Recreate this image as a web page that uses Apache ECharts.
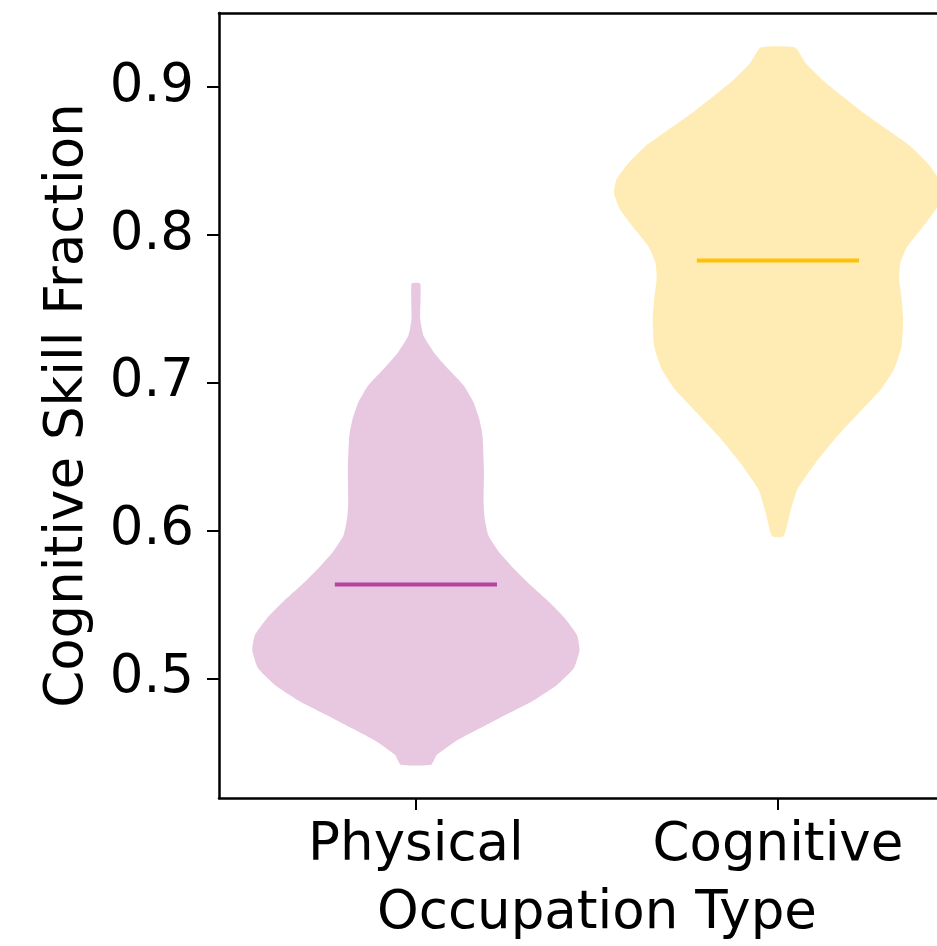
<!DOCTYPE html>
<html>
<head>
<meta charset="utf-8">
<script src="https://cdn.jsdelivr.net/npm/echarts@6/dist/echarts.min.js"></script>
<style>
html,body{margin:0;padding:0;background:#fff;}
#chart{width:937px;height:946px;}
</style>
</head>
<body>
<div id="chart"></div>
<script>
// ---- data ----
const categories = ['Physical', 'Cognitive'];
const positions = [1, 2];
const yTicks = [0.5, 0.6, 0.7, 0.8, 0.9];

// violin profile: y value levels and half-widths (in x-axis units)
const physicalLevels = [0.4415, 0.4482, 0.4573, 0.4663, 0.4752, 0.4843, 0.4955, 0.5067, 0.519, 0.5292, 0.5405, 0.5517, 0.563, 0.5742, 0.5855, 0.5967, 0.608, 0.6193, 0.6417, 0.6642, 0.6754, 0.6867, 0.698, 0.709, 0.7206, 0.7316, 0.743, 0.767];
const physicalHalfWidths = [0.042, 0.058, 0.109, 0.178, 0.247, 0.32, 0.39, 0.436, 0.452, 0.445, 0.412, 0.367, 0.316, 0.27, 0.229, 0.20, 0.19, 0.187, 0.188, 0.184, 0.175, 0.159, 0.132, 0.09, 0.049, 0.021, 0.012, 0.012];

const cognitiveLevels = [0.5961, 0.6123, 0.628, 0.646, 0.664, 0.6798, 0.6955, 0.709, 0.7248, 0.7428, 0.7585, 0.7698, 0.781, 0.7922, 0.8035, 0.817, 0.8283, 0.8373, 0.8485, 0.8597, 0.871, 0.8822, 0.8935, 0.9047, 0.916, 0.9268];
const cognitiveHalfWidths = [0.016, 0.034, 0.054, 0.105, 0.165, 0.225, 0.285, 0.321, 0.342, 0.346, 0.341, 0.335, 0.338, 0.358, 0.395, 0.436, 0.453, 0.446, 0.413, 0.367, 0.303, 0.238, 0.179, 0.123, 0.077, 0.047];

const medians = [0.5634, 0.7826];

// ---- styling ----
const fillColors = ['#e8c8e0', '#ffecb5'];
const lineColors = ['#b5449f', '#ffc107'];
const medianHalfWidth = 0.224;
const FONT = 'DejaVu Sans';

const profiles = [
  {levels: physicalLevels, widths: physicalHalfWidths},
  {levels: cognitiveLevels, widths: cognitiveHalfWidths}
];

const chart = echarts.init(document.getElementById('chart'), null, {renderer: 'canvas'});

function renderViolin(params, api) {
  const i = api.value(0);
  const pos = positions[i];
  const prof = profiles[i];
  const n = prof.levels.length;
  const pts = [];
  for (let k = 0; k < n; k++) {
    pts.push(api.coord([pos - prof.widths[k], prof.levels[k]]));
  }
  for (let k = n - 1; k >= 0; k--) {
    pts.push(api.coord([pos + prof.widths[k], prof.levels[k]]));
  }
  const m1 = api.coord([pos - medianHalfWidth, medians[i]]);
  const m2 = api.coord([pos + medianHalfWidth, medians[i]]);
  return {
    type: 'group',
    children: [
      {type: 'polygon', shape: {points: pts, smooth: 0.15}, style: {fill: fillColors[i], stroke: null}},
      {type: 'line', shape: {x1: m1[0], y1: m1[1], x2: m2[0], y2: m2[1]}, style: {stroke: lineColors[i], lineWidth: 4}}
    ]
  };
}

const labelStyle = {fontFamily: FONT, fontSize: 53, color: '#000'};

const option = {
  animation: false,
  backgroundColor: '#ffffff',
  grid: {left: 219, top: 13, right: 0, height: 787, show: false},
  xAxis: [{
    type: 'value',
    min: 0.456, max: 2.4395,
    splitLine: {show: false},
    axisLine: {show: true, lineStyle: {color: '#000', width: 2.5}},
    axisTick: {show: true, customValues: positions, length: 12, lineStyle: {color: '#000', width: 2}},
    axisLabel: Object.assign({
      show: true, customValues: positions, margin: 22,
      formatter: function (v) { return categories[positions.indexOf(Math.round(v))]; }
    }, labelStyle),
    name: 'Occupation Type',
    nameLocation: 'middle', nameGap: 90,
    nameTextStyle: Object.assign({padding: [0, 0, 0, 38]}, labelStyle)
  }, {
    type: 'value', position: 'top',
    min: 0.456, max: 2.4395,
    splitLine: {show: false},
    axisLine: {show: true, lineStyle: {color: '#000', width: 2.5}},
    axisTick: {show: false}, axisLabel: {show: false}
  }],
  yAxis: {
    type: 'value',
    min: 0.419, max: 0.95,
    splitLine: {show: false},
    axisLine: {show: true, lineStyle: {color: '#000', width: 2.5}},
    axisTick: {show: true, customValues: yTicks, length: 12, lineStyle: {color: '#000', width: 2}},
    axisLabel: Object.assign({
      show: true, customValues: yTicks, margin: 25,
      formatter: function (v) { return v.toFixed(1); }
    }, labelStyle),
    name: 'Cognitive Skill Fraction',
    nameLocation: 'middle', nameGap: 124,
    nameTextStyle: labelStyle
  },
  series: [{
    type: 'custom',
    xAxisIndex: 0,
    renderItem: renderViolin,
    data: [[0], [1]],
    clip: false
  }]
};
chart.setOption(option);
</script>
</body>
</html>
